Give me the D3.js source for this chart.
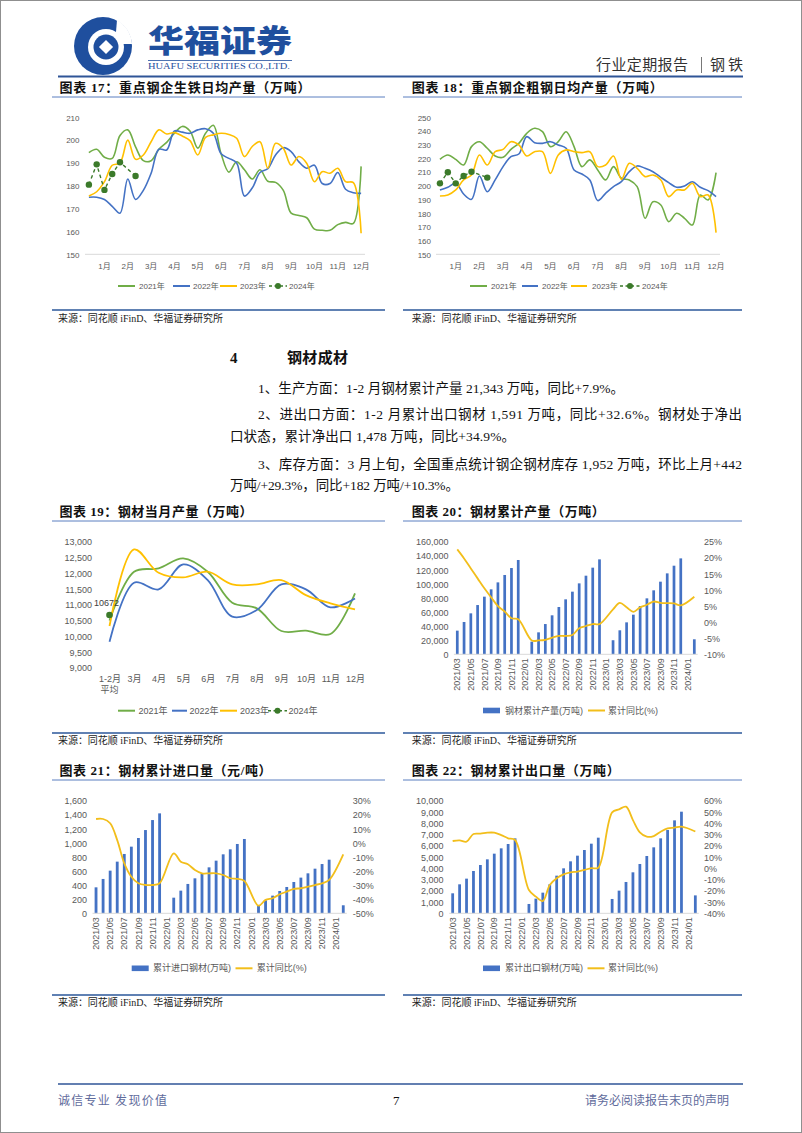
<!DOCTYPE html>
<html><head><meta charset="utf-8">
<script src="https://cdn.jsdelivr.net/npm/d3@7"></script>
<style>
body{margin:0;background:#fff}
svg{display:block}
</style>
</head><body>
<svg id="page" width="802" height="1133"></svg>
<script>
// ---------------- DATA ----------------
const monthLabels12 = ["1月","2月","3月","4月","5月","6月","7月","8月","9月","10月","11月","12月"];
const tenDayIndex = d3.range(36); // 36 ten-day periods per year

const pigIron2021 = [194.5,196,192.5,192,202,204.5,197,191,191,196,199,203,206,204,196.5,203,206.5,194,186,190.5,187,183,187,182,181.5,178,168,167,166,161,160.5,160.5,163,164,163.5,188.5];
const pigIron2022 = [175,175,174,171,168,183,174,178,185.5,196,195.7,204,203.5,203,204.5,205,203,194,192,190,175.5,179,185.8,187.5,193.5,196.7,195,190.5,187.7,189,181,181,185.8,178.5,177,176.7];
const pigIron2023 = [175.5,177.4,181.8,189,190,200,191.6,193.5,199.3,204.5,202.7,203.3,201.8,199.8,193.5,201.2,202.3,203,202.5,200.8,192.8,197.2,199.3,187.7,198.6,196.4,189.1,192.8,189.9,181.8,186.2,185.5,187.7,181.8,181.4,159.2];
const pigIron2024 = [180.5,189.4,178.2,185.2,190.3,null,184.3];
const pigIronTicks = [150,160,170,180,190,200,210];

const crude2021 = [219.3,222.5,219.3,215.2,228.6,232.2,227.4,221.8,220.8,226.6,231,238.3,242,239.5,228.6,232.2,239.5,228.6,214,218.9,211.6,204.3,214,205.5,204.3,199.4,176.3,188.4,186,173.8,180,176.3,171.4,193.3,189.7,209.6];
const crude2022 = [197,198.9,201.8,194,190.1,207.2,195.7,204.3,214,221.3,223.2,235.9,231.5,231,232.2,229.8,227.4,211.6,208.6,204.3,189.2,194.5,199.4,203,210.3,214.5,212.8,210.3,206.2,202.3,198.9,199.9,203,198.9,196.5,192.1];
const crude2023 = [192.6,193.3,197,204.3,207.9,222.5,215.2,224.9,226.6,232.2,229.8,221.8,224.9,224.9,209.1,222.5,226.2,224.9,224.2,224.9,214,215.2,221.8,204.7,216.4,212.8,206.7,207.9,204.3,192.1,197,197,201.8,192.1,193.3,165.8];
const crude2024 = [201.8,209.9,201.8,207.2,210.3,null,206];
const crudeTicks = [150,160,170,180,190,200,210,220,230,240,250];

const steelMonthCats = ["1-2月","3月","4月","5月","6月","7月","8月","9月","10月","11月","12月"];
const steel2021 = [10500,12047,12153,12470,12047,11063,10883,10164,10175,10069,11359];
const steel2022 = [9825,11698,11486,12280,11783,10619,10830,11645,11486,10915,11200];
const steel2023 = [10323,12756,12015,11867,12047,11645,11645,11783,11306,11042,10852];
const steel2024 = [10672];
const steelTicks = [9000,9500,10000,10500,11000,11500,12000,12500,13000];

const months = ["2021/03","2021/04","2021/05","2021/06","2021/07","2021/08","2021/09","2021/10","2021/11","2021/12",
 "2022/01","2022/02","2022/03","2022/04","2022/05","2022/06","2022/07","2022/08","2022/09","2022/10","2022/11","2022/12",
 "2023/01","2023/02","2023/03","2023/04","2023/05","2023/06","2023/07","2023/08","2023/09","2023/10","2023/11","2023/12",
 "2024/01","2024/02"];

const prodCum = [33600,45900,58200,70000,81900,92300,102200,112700,122600,134000,null,18000,31200,43000,55400,67200,78100,89000,100800,111700,123100,134900,null,20000,34100,45400,56300,68600,79500,90900,103200,115000,125900,136300,null,21343];
const prodYoy = [22.6,19.8,16.7,13.6,10.5,7.7,5.0,3.3,1.2,0.9,null,-5.7,-5.7,-5.5,-4.8,-4.3,-4.3,-4.0,-1.9,-1.2,-0.6,-0.6,null,4.0,6.0,4.6,3.2,4.6,5.4,6.4,6.0,5.9,5.8,5.2,null,7.9];
const prodTicksL = [0,20000,40000,60000,80000,100000,120000,140000,160000];
const prodTicksR = [-10,-5,0,5,10,15,20,25];

const importCum = [369,488,606,734,843,947,1070,1183,1325,1420,null,222,322,417,497,568,653,748,838,909,985,1056,null,118,185,251,317,374,445,507,568,634,700,762,null,114];
const importYoy = [17,17,14,2,-14.5,-24,-28.7,-29.9,-29.9,-28.7,null,-7.4,-13.3,-15.2,-19.2,-21.6,-21.6,-21.6,-22.8,-25.1,-25.6,-27,null,-44.6,-40.5,-39.3,-36.5,-34.6,-32.7,-32.2,-31.1,-29.9,-28.7,-26.3,null,-8.1];
const importTicksL = [0,200,400,600,800,1000,1200,1400,1600];
const importTicksR = [-50,-40,-30,-20,-10,0,10,20,30];

const exportCum = [1775,2574,3077,3757,4290,4793,5296,5769,6154,6657,null,828,1302,1834,2574,3343,3994,4615,5118,5621,6183,6716,null,1272,2012,2781,3639,4379,5089,5858,6657,7396,8254,9024,null,1591];
const exportYoy = [24.2,24.8,23.6,30.4,30.7,31.6,31.6,29.5,26.6,25.1,null,-19.3,-25.2,-29.1,-14.9,-8.9,-5.4,-3.6,-3,-1.5,0.1,0.5,null,49.6,52.3,54.7,42.8,31.9,28,28.6,32.5,35.4,36,36.9,null,32.6];
const exportTicksL = [0,1000,2000,3000,4000,5000,6000,7000,8000,9000,10000];
const exportTicksR = [-40,-30,-20,-10,0,10,20,30,40,50,60];

const yearNames = ["2021年","2022年","2023年","2024年"];

// ---------------- STYLE ----------------
const C21 = "#70AD47", C22 = "#4472C4", C23 = "#FFC000", C24 = "#3B7A2A";
const BAR = "#4472C4", YOY = "#F2BE1B";
const SANS = '"Liberation Sans","Noto Sans CJK SC",sans-serif';
const SERIF = '"Liberation Serif","Noto Sans CJK SC",serif';
const CJK = '"Noto Sans CJK SC",sans-serif';
const TICK = "#595959";

const svg = d3.select("#page");
svg.append("rect").attr("x",0.5).attr("y",0.5).attr("width",801).attr("height",1132)
  .attr("fill","#fff").attr("stroke","#8f8f8f");

// ---------------- HEADER ----------------
const logo = svg.append("g").attr("transform","translate(103,46)");
logo.append("circle").attr("r",29).attr("fill","#1f4f9e");
logo.append("path").attr("d","M14,-26 A29,29 0 0 1 29,-2 L12,-2 Z").attr("fill","#fff");
logo.append("circle").attr("cx",3).attr("cy",1).attr("r",18).attr("fill","#fff");
logo.append("circle").attr("cx",3).attr("cy",1).attr("r",12.5).attr("fill","#1f4f9e");
logo.append("rect").attr("x",-5).attr("y",-5).attr("width",10).attr("height",10)
  .attr("transform","translate(3,1) rotate(45)").attr("fill","#fff");
svg.append("text").attr("x",148).attr("y",41).attr("dy","0.35em").text("华福证券")
  .attr("font-family",CJK).attr("font-weight",900).attr("font-size",31).attr("fill","#1f4f9e")
  .attr("textLength",144).attr("lengthAdjust","spacingAndGlyphs");
svg.append("line").attr("x1",148).attr("x2",292).attr("y1",60.5).attr("y2",60.5).attr("stroke","#1f4f9e").attr("stroke-width",0.8);
svg.append("text").attr("x",148).attr("y",66.5).attr("dy","0.35em").text("HUAFU SECURITIES CO.,LTD.")
  .attr("font-family",SERIF).attr("font-size",8.5).attr("fill","#1f4f9e")
  .attr("textLength",142).attr("lengthAdjust","spacingAndGlyphs");
svg.append("text").attr("x",596).attr("y",65).attr("dy","0.35em").text("行业定期报告")
  .attr("font-family",CJK).attr("font-size",15).attr("fill","#333").attr("textLength",92);
svg.append("line").attr("x1",701.5).attr("x2",701.5).attr("y1",57).attr("y2",73).attr("stroke","#555").attr("stroke-width",0.8);
svg.append("text").attr("x",710).attr("y",65).attr("dy","0.35em").text("钢铁")
  .attr("font-family",CJK).attr("font-size",15).attr("fill","#333").attr("textLength",33);
svg.append("line").attr("x1",58).attr("x2",743).attr("y1",76.5).attr("y2",76.5).attr("stroke","#2f5597").attr("stroke-width",2);

// ---------------- FRAME HELPERS ----------------
function chartTitle(x, y, str, len){
  svg.append("text").attr("x",x).attr("y",y).attr("dy","0.35em").text(str)
    .attr("font-family",SERIF).attr("font-weight","bold").attr("font-size",13).attr("fill","#111")
    .attr("textLength",len).attr("lengthAdjust","spacing");
}
function hline(x1,x2,y,color,w){
  svg.append("line").attr("x1",x1).attr("x2",x2).attr("y1",y).attr("y2",y).attr("stroke",color).attr("stroke-width",w);
}
function source(x, y, len){
  svg.append("text").attr("x",x).attr("y",y).attr("dy","0.35em").text("来源：同花顺 iFinD、华福证券研究所")
    .attr("font-family",SERIF).attr("font-size",10).attr("fill","#222")
    .attr("textLength",len).attr("lengthAdjust","spacing");
}
const L = [52,385], R = [403,742];
function frame(yTitle, yTitleLine, ySrcLine, ySrc, titles, lens){
  chartTitle(59.5, yTitle, titles[0], lens[0]);
  chartTitle(411.7, yTitle, titles[1], lens[1]);
  hline(L[0],L[1],yTitleLine,"#5b7fc0",1);
  hline(R[0],R[1],yTitleLine,"#5b7fc0",1);
  hline(L[0],L[1],ySrcLine,"#2b579a",1.5);
  hline(R[0],R[1],ySrcLine,"#2b579a",1.5);
  source(58, ySrc, 165);
  source(411.7, ySrc, 165);
}
frame(87, 97, 310, 318, ["图表 17：重点钢企生铁日均产量（万吨）","图表 18：重点钢企粗钢日均产量（万吨）"], [251,251]);
frame(511.5, 521, 733, 740, ["图表 19：钢材当月产量（万吨）","图表 20：钢材累计产量（万吨）"], [193,193]);
frame(770, 780, 995, 1002, ["图表 21：钢材累计进口量（元/吨）","图表 22：钢材累计出口量（万吨）"], [212,208]);

// ---------------- LEGENDS ----------------
function lineLegend(y, items, fs){
  items.forEach(it => {
    if (it.dashed){
      svg.append("line").attr("x1",it.x1).attr("x2",it.x2).attr("y1",y).attr("y2",y)
        .attr("stroke",it.color).attr("stroke-width",1.6).attr("stroke-dasharray","3,2.5");
      svg.append("circle").attr("cx",(it.x1+it.x2)/2).attr("cy",y).attr("r",3).attr("fill",it.color);
    } else {
      svg.append("line").attr("x1",it.x1).attr("x2",it.x2).attr("y1",y).attr("y2",y)
        .attr("stroke",it.color).attr("stroke-width",it.w||2);
    }
    svg.append("text").attr("x",it.tx).attr("y",y).attr("dy","0.35em").text(it.label)
      .attr("font-family",SANS).attr("font-size",fs).attr("fill",TICK);
  });
}

// ---------------- MULTI-LINE CHART (17, 18, 19) ----------------
function multiLine(cfg){
  const g = svg.append("g");
  const y = d3.scaleLinear().domain(cfg.yDomain).range([cfg.yBot, cfg.yTop]);
  const cx = cfg.cx;
  if (cfg.baseline){
    g.append("line").attr("x1",cfg.xr[0]).attr("x2",cfg.xr[1]).attr("y1",cfg.yBot).attr("y2",cfg.yBot)
      .attr("stroke","#d9d9d9").attr("stroke-width",1);
  }
  const ya = g.append("g").attr("transform",`translate(${cfg.labelRight},0)`)
    .call(d3.axisLeft(y).tickValues(cfg.yTicks).tickFormat(cfg.yFmt).tickSize(0).tickPadding(0));
  ya.attr("font-size",null).attr("font-family",null);
  ya.select(".domain").remove();
  ya.selectAll("text").attr("font-family",SANS).attr("font-size",cfg.fs).attr("fill",TICK).attr("dy","0.35em");

  const xa = g.append("g").attr("transform",`translate(0,${cfg.yBot})`)
    .call(d3.axisBottom(cfg.xScale).tickValues(cfg.xTickVals).tickFormat(cfg.xFmt).tickSize(0));
  xa.attr("font-size",null).attr("font-family",null);
  xa.select(".domain").remove();
  xa.selectAll("text").attr("font-family",SANS).attr("font-size",cfg.fs).attr("fill",TICK)
    .attr("y",cfg.xLabelOffset).attr("dy","0.35em");

  cfg.series.forEach(s => {
    const pts = s.values.map((v,i)=>[cx(i), v]).filter(d=>d[1]!=null);
    const line = d3.line().x(d=>d[0]).y(d=>y(d[1]))
      .curve(s.dashed ? d3.curveLinear : d3.curveCatmullRom.alpha(0.5));
    g.append("path").attr("d",line(pts)).attr("fill","none").attr("stroke",s.color)
      .attr("stroke-width",s.w).attr("stroke-dasharray",s.dashed?"3.5,3":null)
      .attr("stroke-linejoin","round");
    if (s.dots){
      g.selectAll(null).data(pts).enter().append("circle")
        .attr("cx",d=>d[0]).attr("cy",d=>y(d[1])).attr("r",cfg.dotR).attr("fill",s.color);
    }
  });
  return {y, cx};
}

// Chart 17
const x17 = d3.scaleBand().domain(tenDayIndex).range([85,365]);
multiLine({
  xScale:x17, cx:i=>x17(i)+x17.bandwidth()/2, xr:[85,365], xTickVals:d3.range(2,36,3),
  xFmt:(d)=>monthLabels12[(d-2)/3], xLabelOffset:12,
  yDomain:[150,210], yBot:254.3, yTop:117.3, yTicks:pigIronTicks, yFmt:d3.format("d"),
  labelRight:79.5, fs:8, baseline:true, dotR:3.2,
  series:[
    {values:pigIron2021,color:C21,w:1.6},
    {values:pigIron2022,color:C22,w:1.6},
    {values:pigIron2023,color:C23,w:1.6},
    {values:pigIron2024,color:C24,w:1.4,dashed:true,dots:true}
  ]
});
lineLegend(286,[
  {x1:118,x2:135,tx:139,color:C21,label:yearNames[0]},
  {x1:173,x2:190,tx:193,color:C22,label:yearNames[1]},
  {x1:220,x2:237,tx:240,color:C23,label:yearNames[2]},
  {x1:269,x2:287,tx:289,color:C24,label:yearNames[3],dashed:true}
],8);

// Chart 18
const x18 = d3.scaleBand().domain(tenDayIndex).range([436,720]);
multiLine({
  xScale:x18, cx:i=>x18(i)+x18.bandwidth()/2, xr:[436,720], xTickVals:d3.range(2,36,3),
  xFmt:(d)=>monthLabels12[(d-2)/3], xLabelOffset:11.5,
  yDomain:[150,250], yBot:254.3, yTop:117.3, yTicks:crudeTicks, yFmt:d3.format("d"),
  labelRight:431, fs:8, baseline:true, dotR:3.2,
  series:[
    {values:crude2021,color:C21,w:1.6},
    {values:crude2022,color:C22,w:1.6},
    {values:crude2023,color:C23,w:1.6},
    {values:crude2024,color:C24,w:1.4,dashed:true,dots:true}
  ]
});
lineLegend(286,[
  {x1:470,x2:487,tx:491,color:C21,label:yearNames[0]},
  {x1:522,x2:538,tx:542,color:C22,label:yearNames[1]},
  {x1:571,x2:587,tx:592,color:C23,label:yearNames[2]},
  {x1:620,x2:640,tx:642,color:C24,label:yearNames[3],dashed:true}
],8);

// Chart 19
const x19 = d3.scalePoint().domain(d3.range(steelMonthCats.length)).range([109.5,355]);
const c19 = multiLine({
  xScale:x19, cx:i=>x19(i), xr:[98,366], xTickVals:d3.range(steelMonthCats.length),
  xFmt:(d)=>steelMonthCats[d], xLabelOffset:11,
  yDomain:[9000,13000], yBot:667.7, yTop:541.7, yTicks:steelTicks, yFmt:d3.format(","),
  labelRight:92, fs:9, baseline:false, dotR:3.3,
  series:[
    {values:steel2021,color:C21,w:1.8},
    {values:steel2022,color:C22,w:1.8},
    {values:steel2023,color:C23,w:1.8},
    {values:steel2024,color:C24,w:1.4,dashed:true,dots:true}
  ]
});
svg.append("text").attr("x",x19(0)).attr("y",690).attr("dy","0.35em").attr("text-anchor","middle")
  .text("平均").attr("font-family",SANS).attr("font-size",9).attr("fill",TICK);
svg.append("text").attr("x",x19(0)-3).attr("y",c19.y(steel2024[0])-12).attr("dy","0.35em").attr("text-anchor","middle")
  .text(String(steel2024[0])).attr("font-family",SANS).attr("font-size",9).attr("fill","#404040");
lineLegend(710.7,[
  {x1:118,x2:135,tx:138.5,color:C21,label:yearNames[0]},
  {x1:172,x2:187,tx:189.5,color:C22,label:yearNames[1]},
  {x1:220,x2:237,tx:240,color:C23,label:yearNames[2]},
  {x1:268,x2:287,tx:288.5,color:C24,label:yearNames[3],dashed:true}
],9);

// ---------------- BAR + LINE CHARTS (20, 21, 22) ----------------
function barLine(cfg){
  const g = svg.append("g");
  const x = d3.scaleBand().domain(months).range(cfg.xr).paddingInner(0.6).paddingOuter(0.3);
  const yL = d3.scaleLinear().domain(cfg.lDomain).range([cfg.yBot, cfg.yTop]);
  const yR = d3.scaleLinear().domain(cfg.rDomain).range([cfg.yBot, cfg.yTop]);
  const cx = m => x(m) + x.bandwidth()/2;

  g.selectAll(null).data(months.map((m,i)=>({m, v:cfg.bars[i]})).filter(d=>d.v!=null))
    .enter().append("rect")
    .attr("x",d=>x(d.m)).attr("width",x.bandwidth())
    .attr("y",d=>yL(d.v)).attr("height",d=>cfg.yBot-yL(d.v)).attr("fill",BAR);

  g.append("line").attr("x1",cfg.xr[0]).attr("x2",cfg.xr[1]).attr("y1",cfg.yBot).attr("y2",cfg.yBot)
    .attr("stroke","#d9d9d9").attr("stroke-width",1);

  const la = g.append("g").attr("transform",`translate(${cfg.lLabel},0)`)
    .call(d3.axisLeft(yL).tickValues(cfg.lTicks).tickFormat(d3.format(",")).tickSize(0).tickPadding(0));
  la.attr("font-size",null).attr("font-family",null);
  la.select(".domain").remove();
  la.selectAll("text").attr("font-family",SANS).attr("font-size",9).attr("fill",TICK).attr("dy","0.35em");

  const ra = g.append("g").attr("transform",`translate(${cfg.rLabel},0)`)
    .call(d3.axisRight(yR).tickValues(cfg.rTicks).tickFormat(d=>d+"%").tickSize(0).tickPadding(0));
  ra.attr("font-size",null).attr("font-family",null);
  ra.select(".domain").remove();
  ra.selectAll("text").attr("font-family",SANS).attr("font-size",9).attr("fill",TICK).attr("dy","0.35em");

  const xa = g.append("g").attr("transform",`translate(0,${cfg.yBot})`)
    .call(d3.axisBottom(x).tickValues(months.filter((m,i)=>i%2===0)).tickSize(0));
  xa.attr("font-size",null).attr("font-family",null);
  xa.select(".domain").remove();
  xa.selectAll("text").attr("font-family",SANS).attr("font-size",9).attr("fill",TICK)
    .attr("transform","rotate(-90)").attr("text-anchor","end")
    .attr("x",-4).attr("y",0).attr("dy","0.35em");

  const pts = months.map((m,i)=>[cx(m), cfg.line[i]]).filter(d=>d[1]!=null);
  g.append("path").attr("d", d3.line().x(d=>d[0]).y(d=>yR(d[1])).curve(d3.curveCatmullRom.alpha(0.5))(pts))
    .attr("fill","none").attr("stroke",YOY).attr("stroke-width",1.8).attr("stroke-linejoin","round");

  // legend
  const ly = cfg.legendY;
  svg.append("rect").attr("x",cfg.leg[0]).attr("y",ly-2.8).attr("width",17).attr("height",5.6).attr("fill",BAR);
  svg.append("text").attr("x",cfg.leg[1]).attr("y",ly).attr("dy","0.35em").text(cfg.barName)
    .attr("font-family",SANS).attr("font-size",9).attr("fill",TICK);
  svg.append("line").attr("x1",cfg.leg[2]).attr("x2",cfg.leg[2]+17).attr("y1",ly).attr("y2",ly)
    .attr("stroke",YOY).attr("stroke-width",2);
  svg.append("text").attr("x",cfg.leg[3]).attr("y",ly).attr("dy","0.35em").text("累计同比(%)")
    .attr("font-family",SANS).attr("font-size",9).attr("fill",TICK);
}

barLine({
  xr:[453.9,697.7], yBot:654.3, yTop:541.7,
  lDomain:[0,160000], rDomain:[-10,25], lTicks:prodTicksL, rTicks:prodTicksR,
  lLabel:448.5, rLabel:704, bars:prodCum, line:prodYoy,
  legendY:710.5, leg:[483,505,588,608], barName:"钢材累计产量(万吨)"
});
barLine({
  xr:[92.5,346.8], yBot:913.3, yTop:800.7,
  lDomain:[0,1600], rDomain:[-50,30], lTicks:importTicksL, rTicks:importTicksR,
  lLabel:87, rLabel:352.7, bars:importCum, line:importYoy,
  legendY:968.3, leg:[131.7,153,235.5,256.7], barName:"累计进口钢材(万吨)"
});
barLine({
  xr:[449.2,698.8], yBot:913.3, yTop:800.7,
  lDomain:[0,10000], rDomain:[-40,60], lTicks:exportTicksL, rTicks:exportTicksR,
  lLabel:443.5, rLabel:704, bars:exportCum, line:exportYoy,
  legendY:968.3, leg:[483,505,587.5,608], barName:"累计出口钢材(万吨)"
});

// ---------------- BODY TEXT ----------------
svg.append("text").attr("x",230).attr("y",358).attr("dy","0.35em").text("4")
  .attr("font-family",SERIF).attr("font-weight","bold").attr("font-size",15).attr("fill","#111");
svg.append("text").attr("x",287).attr("y",358).attr("dy","0.35em").text("钢材成材")
  .attr("font-family",SERIF).attr("font-weight","bold").attr("font-size",15).attr("fill","#111")
  .attr("textLength",61);
const bodyLines = [
  {x:258, y:388, w:366, t:"1、生产方面：1-2 月钢材累计产量 21,343 万吨，同比+7.9%。"},
  {x:258, y:414, w:484, t:"2、进出口方面：1-2 月累计出口钢材 1,591 万吨，同比+32.6%。钢材处于净出"},
  {x:230, y:436, w:285, t:"口状态，累计净出口 1,478 万吨，同比+34.9%。"},
  {x:258, y:464, w:484, t:"3、库存方面：3 月上旬，全国重点统计钢企钢材库存 1,952 万吨，环比上月+442"},
  {x:230, y:485, w:229, t:"万吨/+29.3%，同比+182 万吨/+10.3%。"}
];
bodyLines.forEach(l => {
  svg.append("text").attr("x",l.x).attr("y",l.y).attr("dy","0.35em").text(l.t)
    .attr("font-family",SERIF).attr("font-size",13.5).attr("fill","#111")
    .attr("textLength",l.w).attr("lengthAdjust","spacing");
});

// ---------------- FOOTER ----------------
hline(58,743,1084,"#2f5597",1.5);
svg.append("text").attr("x",58).attr("y",1100.5).attr("dy","0.35em").text("诚信专业  发现价值")
  .attr("font-family",CJK).attr("font-size",12).attr("fill","#5f6b9c").attr("textLength",109);
svg.append("text").attr("x",393).attr("y",1100.5).attr("dy","0.35em").text("7")
  .attr("font-family",SERIF).attr("font-size",13).attr("fill","#111");
svg.append("text").attr("x",729).attr("y",1100.5).attr("dy","0.35em").attr("text-anchor","end").text("请务必阅读报告末页的声明")
  .attr("font-family",CJK).attr("font-size",12).attr("fill","#5f6b9c");
</script>
</body></html>
